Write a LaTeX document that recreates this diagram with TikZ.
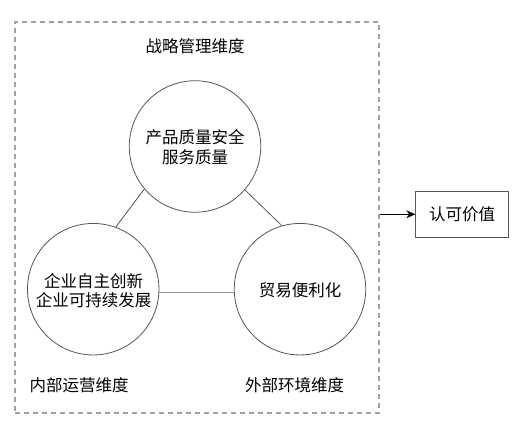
\documentclass[tikz,border=0pt]{standalone}
\usepackage{fontspec}
\setmainfont{Noto Sans CJK SC}
\usetikzlibrary{arrows.meta}
\definecolor{edgegray}{HTML}{555555}
\definecolor{linkgray}{HTML}{909090}
\definecolor{framegray}{HTML}{A0A0A0}
\begin{document}
\begin{tikzpicture}[x=1pt,y=-1pt,
  txt/.style={font=\fontsize{16.5}{19.5}\selectfont, text=black, align=center, inner sep=0pt},
  circ/.style={circle, draw=edgegray, line width=0.8pt, minimum size=131.5pt, inner sep=0pt},
  link/.style={draw=edgegray, line width=0.8pt},
  hlink/.style={draw=linkgray, line width=1.3pt}]
\useasboundingbox (0,0) rectangle (524,446);
\node[draw=framegray, dash pattern=on 5pt off 4pt, line width=1.2pt, minimum width=364pt, minimum height=391pt, inner sep=0pt] (frame) at (197,217.5) {};
\node[txt] (strat) at (195,46) {战略管理维度};
\node[circ] (top) at (195,146.5) {};
\node[circ] (left) at (93.2,289.2) {};
\node[circ] (right) at (300,289.2) {};
\node[txt] (toptxt) at (195,147) {产品质量安全\\服务质量};
\node[txt] (lefttxt) at (93.5,290.5) {企业自主创新\\企业可持续发展};
\node[txt] (righttxt) at (300,290) {贸易便利化};
\node[txt] (inner) at (79.2,385) {内部运营维度};
\node[txt] (outer) at (294.5,385) {外部环境维度};
\node[draw=edgegray, line width=0.8pt, minimum width=92.6pt, minimum height=45.3pt, inner sep=0pt, font=\fontsize{16.5}{19.5}\selectfont] (value) at (462,214.3) {认可价值};
\draw[link] (top.220.5) -- (left.70.8);
\draw[link] (top.319) -- (right.106.7);
\draw[hlink] (left.-3.6) -- (right.183.6);
\draw[draw=black, line width=0.8pt, -{Stealth[length=9pt,width=8pt]}] (frame.east |- value.west) -- (value.west);
\end{tikzpicture}
\end{document}
